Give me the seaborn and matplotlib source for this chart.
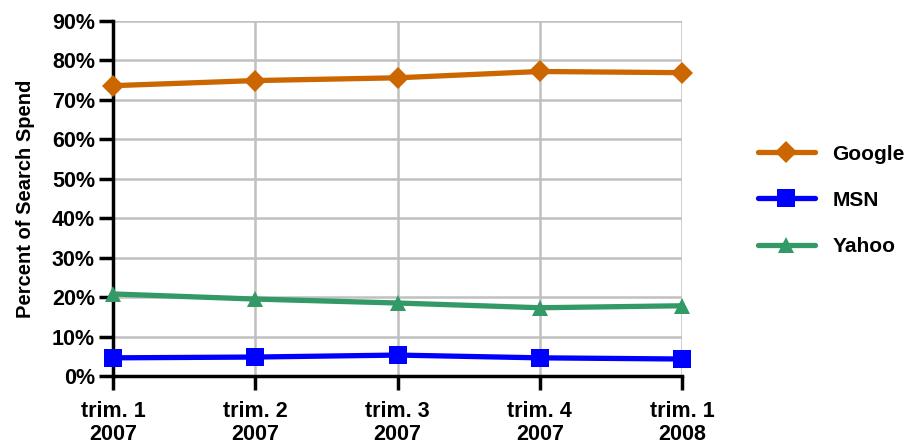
import matplotlib
matplotlib.use("Agg")
import matplotlib.pyplot as plt
import seaborn as sns
import pandas as pd
from matplotlib.lines import Line2D

quarters = ["trim. 1\n2007", "trim. 2\n2007", "trim. 3\n2007", "trim. 4\n2007", "trim. 1\n2008"]
google = [73.6, 74.9, 75.6, 77.2, 76.9]
msn = [4.6, 4.8, 5.3, 4.6, 4.3]
yahoo = [20.8, 19.5, 18.5, 17.3, 17.8]
engines = ["Google", "MSN", "Yahoo"]
colors = {"Google": "#CC6600", "MSN": "#0000FF", "Yahoo": "#339966"}
marker_map = {"Google": "D", "MSN": "s", "Yahoo": "^"}
yticks = list(range(0, 100, 10))

rows = []
for name, vals in zip(engines, [google, msn, yahoo]):
    for i, v in enumerate(vals):
        rows.append({"quarter": i, "engine": name, "share": v})
df = pd.DataFrame(rows)

sns.set_style("white")
plt.rcParams["font.family"] = ["Liberation Sans", "DejaVu Sans"]
plt.rcParams["font.weight"] = "bold"
plt.rcParams["text.color"] = "black"
plt.rcParams["axes.labelcolor"] = "black"
plt.rcParams["xtick.color"] = "black"
plt.rcParams["ytick.color"] = "black"

fig = plt.figure(figsize=(9.07, 4.44), dpi=100)
ax = fig.add_axes([0.1246, 0.1532, 0.752 - 0.1246, 0.9527 - 0.1532])

sns.lineplot(data=df, x="quarter", y="share", hue="engine", style="engine",
             palette=colors, markers=marker_map, dashes=False, ax=ax,
             linewidth=3.8, markersize=12, markeredgewidth=0, legend=False)
sizes = {"Google": 11, "MSN": 12.5, "Yahoo": 12}
for line, name in zip(ax.lines, engines):
    line.set_markersize(sizes[name])
    line.set_clip_on(False)
    line.set_zorder(5)

ax.set_xlim(0, 4)
ax.set_ylim(0, 90)
ax.set_xticks(range(5))
ax.set_xticklabels(quarters)
ax.set_yticks(yticks)
ax.set_yticklabels([f"{t}%" for t in yticks])
ax.grid(True, color="#C0C0C0", linewidth=1.8)
ax.set_axisbelow(True)
for s in ["top", "right"]:
    ax.spines[s].set_visible(False)
for s in ["left", "bottom"]:
    ax.spines[s].set_color("black")
    ax.spines[s].set_linewidth(2.5)
    ax.spines[s].set_zorder(4)
ax.tick_params(axis="both", direction="out", length=10, width=2.5, color="black",
               labelsize=15.5, bottom=True, left=True)
ax.tick_params(axis="x", pad=8)
ax.tick_params(axis="y", pad=3)
for lab in ax.get_xticklabels() + ax.get_yticklabels():
    lab.set_fontweight("bold")
for lab in ax.get_xticklabels():
    lab.set_linespacing(1.15)
ax.set_xlabel("")
ax.set_ylabel("Percent of Search Spend", fontsize=14.5, fontweight="bold", labelpad=12)

handles = [Line2D([], [], color=colors[n], marker=marker_map[n], linewidth=3.8,
                  markersize=sizes[n], markeredgewidth=0) for n in engines]
leg = fig.legend(handles, engines, loc="center left", bbox_to_anchor=(0.836, 0.549),
                 frameon=False, fontsize=15, handlelength=2.7, labelspacing=1.3,
                 handletextpad=0.85, borderpad=0, borderaxespad=0)
for t in leg.get_texts():
    t.set_fontweight("bold")

fig.savefig("out.png", dpi=100)
